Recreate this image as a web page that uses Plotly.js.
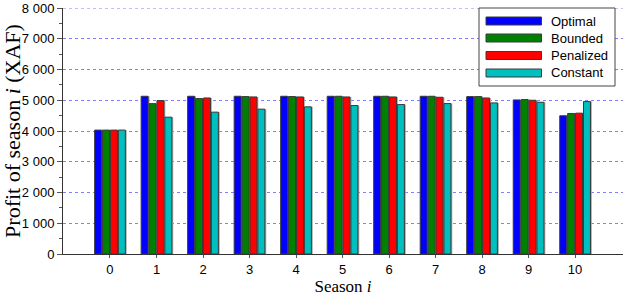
<!DOCTYPE html>
<html>
<head>
<meta charset="utf-8">
<script src="https://cdn.plot.ly/plotly-3.0.1.min.js"></script>
<style>html,body{margin:0;padding:0;background:#fff;}#chart{width:623px;height:296px;}</style>
</head>
<body>
<div id="chart"></div>
<script>
var seasons = [0,1,2,3,4,5,6,7,8,9,10];
var optimal   = [4030,5130,5130,5130,5130,5130,5130,5130,5118,5011,4495];
var bounded   = [4030,4890,5054,5118,5120,5130,5130,5130,5118,5022,4570];
var penalized = [4030,4990,5075,5108,5108,5108,5108,5097,5075,5000,4580];
var constant  = [4030,4450,4613,4710,4785,4828,4860,4892,4914,4935,4957];
var seriesNames = ['Optimal','Bounded','Penalized','Constant'];
var seriesColors = ['#0000ff','#008000','#ff0000','#00bfbf'];
var seriesData = [optimal, bounded, penalized, constant];

var W = 623, H = 296, L = 63, R = 0, T = 8, B = 42;
var pw = W - L - R, ph = H - T - B;
function px(x){ return (x - L) / pw; }
function py(y){ return 1 - (y - T) / ph; }

var slot = 0.17, bw = 0.15, start = -0.34 + 0.01;
var traces = [];
seriesData.forEach(function(d, i){
  traces.push({
    type: 'bar', x: seasons, y: d, name: seriesNames[i] + ' shadow',
    width: bw, offset: start + i*slot + 0.03,
    marker: {color: '#a8a8a8', line: {width: 0}},
    showlegend: false, hoverinfo: 'skip'
  });
});
seriesData.forEach(function(d, i){
  traces.push({
    type: 'bar', x: seasons, y: d, name: seriesNames[i],
    width: bw, offset: start + i*slot,
    marker: {color: seriesColors[i], line: {color: '#3a3a3a', width: 1}},
    showlegend: false, hoverinfo: 'x+y'
  });
});

var shapes = [];
var annotations = [];
// top gridline (at the axis edge)
shapes.push({type:'line', xref:'paper', yref:'y', x0:0, x1:1, y0:8000, y1:8000,
  line:{color:'#8080ff', width:1, dash:'dot'}, layer:'below'});
// legend box
shapes.push({type:'rect', xref:'paper', yref:'paper', x0:px(479), x1:px(615), y0:py(86), y1:py(8),
  line:{color:'#444', width:1}, fillcolor:'#fff', layer:'above'});
var rowY = [21, 38, 55.5, 73];
seriesNames.forEach(function(n, i){
  shapes.push({type:'rect', xref:'paper', yref:'paper', x0:px(486), x1:px(541.5),
    y0:py(rowY[i]+4), y1:py(rowY[i]-4), fillcolor:seriesColors[i],
    line:{color:'#3a3a3a', width:1}, layer:'above'});
  annotations.push({xref:'paper', yref:'paper', x:px(549), y:py(rowY[i]), xanchor:'left', yanchor:'middle',
    text:n, showarrow:false, font:{family:'Liberation Sans, Arial, sans-serif', size:13, color:'#000'}});
});

var layout = {
  width: W, height: H,
  margin: {l: L, r: R, t: T, b: B, pad: 0},
  paper_bgcolor: '#fff', plot_bgcolor: '#fff',
  separators: '. ',
  barmode: 'overlay',
  font: {family: 'Liberation Sans, Arial, sans-serif', size: 13, color: '#000'},
  xaxis: {
    range: [-1.01, 11.03], tickvals: seasons, ticks: 'outside', ticklen: 3, tickcolor: '#555',
    showline: true, linecolor: '#333', linewidth: 1, showgrid: false, zeroline: false,
    tickfont: {size: 13}, mirror: false,
    title: {text: 'Season <i>i</i>', font: {family: 'Liberation Serif, Times New Roman, serif', size: 17}, standoff: 9}
  },
  yaxis: {
    range: [0, 8000], tickvals: [0,1000,2000,3000,4000,5000,6000,7000,8000], tickformat: ',d',
    ticks: 'outside', ticklen: 5, tickcolor: '#555',
    showline: true, linecolor: '#333', linewidth: 1, zeroline: false,
    showgrid: true, gridcolor: '#8080ff', griddash: 'dot', gridwidth: 1,
    minor: {tickvals: [500,1500,2500,3500,4500,5500,6500,7500], ticks: 'outside', ticklen: 3, tickcolor: '#555', showgrid: false},
    tickfont: {size: 13},
    title: {text: 'Profit of season <i>i</i> (XAF)', font: {family: 'Liberation Serif, Times New Roman, serif', size: 22}, standoff: 6}
  },
  shapes: shapes,
  annotations: annotations
};
Plotly.newPlot('chart', traces, layout, {displayModeBar: false, staticPlot: true});
</script>
</body>
</html>
